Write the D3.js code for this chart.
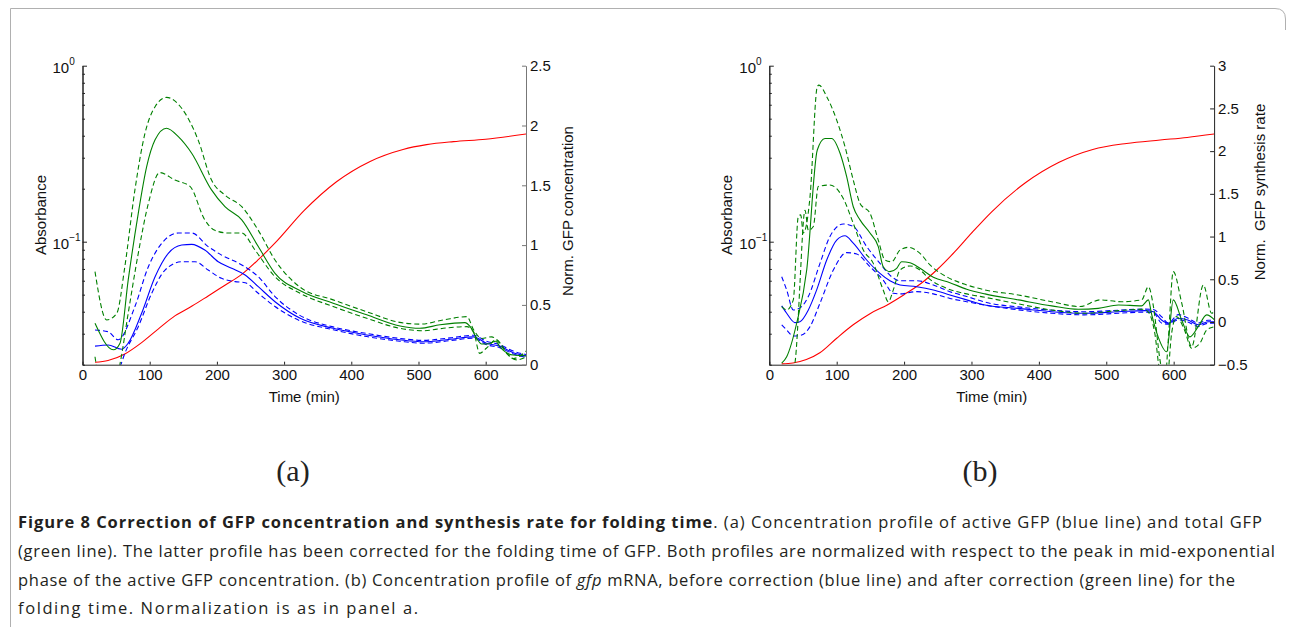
<!DOCTYPE html>
<html><head><meta charset="utf-8">
<script src="https://cdn.jsdelivr.net/npm/d3@7"></script>
<style>
body{margin:0;background:#fff}
svg{display:block}
</style>
</head><body>
<svg id="c" width="1292" height="627"></svg>
<script>
// ---------- tick labels / axis values ----------
const timeTicks = [0,100,200,300,400,500,600];
const logMajorTicks = [1, 0.1];
const logMinorTicks = [0.02,0.03,0.04,0.05,0.06,0.07,0.08,0.09,0.2,0.3,0.4,0.5,0.6,0.7,0.8,0.9];
const logLabels = [["10","0"],["10","\u22121"]];
const rightTicksA = [0,0.5,1,1.5,2,2.5];
const rightTicksB = [-0.5,0,0.5,1,1.5,2,2.5,3];

// ---------- Panel (a) series: [time (min), value] ----------
const aGreen = [[18.6,0.0344],[45.9,0.0243],[55.8,0.0265],[68,0.0605],[83,0.145],[95.5,0.267],[108,0.379],[125,0.441],[142.6,0.395],[162.5,0.318],[192,0.197],[212,0.158],[237,0.133],[261.6,0.0938],[286.5,0.0661],[325,0.0525],[373,0.0447],[423,0.0384],[472.5,0.0332],[502,0.0322],[532,0.0337],[569,0.0347],[577,0.0329],[586.6,0.0282],[594,0.0262],[603,0.0262],[615,0.0272],[621,0.0253],[641,0.0227],[661,0.0225]];
const aGreenUp = [[18.6,0.0676],[36,0.0359],[51,0.0392],[63,0.0721],[78,0.197],[93,0.413],[108,0.585],[125,0.661],[147.6,0.573],[172,0.379],[192,0.224],[212,0.184],[237,0.158],[261.6,0.116],[286.5,0.0787],[324,0.0551],[373,0.0467],[423,0.04],[472,0.0348],[502,0.034],[537,0.0359],[572,0.0375],[582,0.0316],[594,0.0282],[609,0.0288],[621,0.0265],[641,0.0217],[661,0.024]];
const aGreenLo = [[18.6,0.0222],[30,0.0141],[45,0.0141],[56,0.0204],[68,0.0392],[83,0.0859],[98,0.165],[115,0.247],[137.6,0.224],[160,0.206],[182,0.133],[197,0.116],[217,0.112],[237,0.112],[256.7,0.0897],[286.5,0.0632],[324,0.0509],[373,0.0428],[423,0.0367],[472,0.0322],[507,0.0312],[537,0.0322],[572,0.0329],[582,0.0308],[591,0.0232],[601,0.0248],[616,0.0277],[631,0.0232],[646,0.0213],[661,0.0222]];
const aBlue = [[18.6,0.0255],[38,0.0259],[58,0.0245],[68,0.0265],[88,0.0392],[108,0.0632],[127.7,0.0859],[147.6,0.0957],[162.5,0.0966],[182,0.0897],[202,0.0769],[222,0.0706],[242,0.0647],[261.6,0.0555],[286.5,0.0456],[324,0.0367],[373,0.0322],[423,0.0295],[472,0.0277],[507,0.027],[547,0.0279],[582,0.0288],[601,0.0265],[621,0.0255],[641,0.0234],[661,0.0224]];
const aBlueUp = [[18.6,0.0315],[38,0.0308],[53,0.0277],[78,0.0428],[98,0.0721],[118,0.098],[142.6,0.112],[162.5,0.112],[187,0.0938],[207,0.0839],[237,0.0738],[261.6,0.0632],[286.5,0.0488],[324,0.038],[373,0.0328],[423,0.0301],[472,0.0282],[507,0.0275],[547,0.0284],[582,0.0294],[601,0.0272],[621,0.026],[641,0.0239],[661,0.0228]];
const aBlueLo = [[18.6,0.0174],[40,0.0166],[55,0.0191],[63,0.0232],[83,0.0329],[103,0.0509],[122.8,0.069],[147.6,0.0769],[167.5,0.0769],[187,0.069],[207,0.0619],[227,0.0593],[242,0.0585],[261.6,0.0509],[286.5,0.0428],[324,0.0355],[373,0.0316],[423,0.0289],[472,0.0272],[507,0.0265],[547,0.0274],[582,0.0283],[601,0.026],[621,0.025],[641,0.023],[661,0.022]];
const aRed = [[18.6,0.02],[38,0.035],[63,0.09],[88,0.185],[113,0.30],[138,0.41],[163,0.49],[187,0.575],[212,0.665],[237,0.755],[262,0.88],[287,1.02],[330,1.29],[378,1.53],[428,1.70],[477,1.80],[512,1.84],[552,1.865],[600,1.885],[661,1.93]];

// ---------- Panel (b) series ----------
const bGreen = [[18.4,0.0204],[25.8,0.0222],[40.6,0.0344],[55.5,0.069],[71.2,0.332],[82.6,0.386],[92.6,0.386],[105,0.318],[114.8,0.234],[124.6,0.158],[134.6,0.133],[149.4,0.112],[161.7,0.0938],[169,0.0721],[179,0.0676],[189,0.0706],[196.4,0.0769],[208.8,0.076],[223.6,0.0706],[243.4,0.0628],[268,0.0585],[292.9,0.0537],[320,0.0505],[369.5,0.0467],[419,0.0432],[458.5,0.0413],[488,0.0418],[518,0.0437],[552.5,0.0432],[562.5,0.0467],[567,0.0392],[577,0.0288],[589.6,0.0237],[599.4,0.0467],[611.9,0.0359],[624,0.0288],[636.5,0.0329],[649,0.0384],[661,0.0359]];
const bGreenUp = [[18.4,0.0428],[25.8,0.0409],[35.6,0.0467],[43,0.139],[46.6,0.142],[50.4,0.112],[55.5,0.127],[60.4,0.18],[71.2,0.76],[73.6,0.776],[85.2,0.667],[100,0.491],[112.3,0.347],[124.6,0.224],[134.6,0.165],[149.4,0.145],[161.7,0.102],[171.7,0.0787],[181.6,0.0769],[194,0.0897],[206.2,0.0929],[223.6,0.0859],[238.4,0.0738],[263.2,0.0632],[292.9,0.0568],[320,0.0532],[369.5,0.0498],[419,0.0456],[461,0.0428],[491,0.0467],[522,0.0456],[552.5,0.0467],[562.5,0.0555],[570,0.0428],[579.7,0.0213],[587,0.0158],[592,0.0277],[599.4,0.0676],[612,0.0447],[626.7,0.0253],[644,0.0568],[656.4,0.0392],[661,0.0407]];
const bGreenLo = [[18.4,0.0126],[38,0.0204],[43,0.0375],[45.5,0.0581],[53,0.151],[57.9,0.116],[65.3,0.122],[72.7,0.206],[90,0.21],[109.8,0.176],[124.6,0.127],[139.5,0.0897],[154.3,0.0753],[169,0.0532],[176.6,0.0456],[184,0.0532],[194,0.069],[208.8,0.0728],[223.6,0.069],[238.4,0.0611],[263.2,0.0543],[292.9,0.0505],[320,0.0483],[369.5,0.0443],[419,0.0409],[468,0.0392],[518,0.0406],[555,0.0413],[562.5,0.0398],[572,0.0302],[580,0.0178],[589.6,0.0158],[597,0.0302],[604,0.0375],[616,0.0315],[626.7,0.0248],[639,0.0265],[649,0.0315],[661,0.0329]];
const bBlue = [[18.4,0.0432],[25.8,0.0392],[38,0.0347],[45.5,0.0351],[57.9,0.0409],[70.3,0.0532],[85.2,0.0787],[100,0.102],[112.3,0.108],[124.6,0.098],[144.5,0.0787],[164.2,0.0661],[179,0.06],[194,0.0568],[218.7,0.0555],[243.4,0.0532],[268,0.0498],[292.9,0.0467],[320,0.0437],[369.5,0.0418],[419,0.04],[468,0.0392],[518,0.04],[557.5,0.0406],[570,0.04],[582,0.0359],[592,0.0344],[607,0.0367],[621,0.0359],[636.5,0.0337],[651,0.0351],[661,0.0351]];
const bBlueUp = [[18.4,0.0632],[25.8,0.0532],[35.6,0.0409],[48,0.0428],[57.9,0.0488],[75.2,0.0753],[90,0.107],[109.8,0.126],[124.6,0.122],[144.5,0.0938],[164.2,0.0753],[181.6,0.0632],[194,0.06],[218.7,0.06],[243.4,0.0568],[268,0.052],[292.9,0.0488],[327,0.0447],[369.5,0.0426],[419,0.0408],[468,0.04],[518,0.0408],[557.5,0.0414],[570,0.0412],[582,0.0375],[592,0.0345],[607,0.0385],[621,0.0368],[636.5,0.0345],[651,0.0358],[661,0.0358]];
const bBlueLo = [[18.4,0.0337],[25.8,0.0315],[35.6,0.0291],[48,0.0295],[60.4,0.0329],[75.2,0.0447],[95,0.069],[114.8,0.0867],[129.7,0.0851],[149.4,0.0721],[169,0.0605],[184,0.0509],[194,0.0505],[218.7,0.052],[243.4,0.0505],[268,0.0476],[292.9,0.0456],[327,0.0432],[369.5,0.041],[419,0.0392],[468,0.0384],[518,0.0392],[557.5,0.0398],[570,0.0395],[582,0.0345],[592,0.034],[607,0.036],[621,0.035],[636.5,0.033],[651,0.0344],[661,0.0344]];
const bRed = [[18.4,-0.49],[35,-0.48],[55,-0.44],[75,-0.36],[100,-0.19],[125,-0.03],[150,0.1],[175,0.2],[200,0.32],[225,0.45],[250,0.62],[275,0.82],[300,1.04],[330,1.29],[380,1.63],[430,1.87],[480,2.02],[530,2.09],[580,2.13],[620,2.16],[660,2.2]];

// ---------- texts ----------
const xLabel = "Time (min)";
const yLabel = "Absorbance";
const rLabelA = "Norm. GFP concentration";
const rLabelB = "Norm.  GFP synthesis rate";
const panelTags = ["(a)","(b)"];

const svg = d3.select("#c");
const FONT = "'Liberation Sans', Arial, Helvetica, sans-serif";

// frame
svg.append("path")
  .attr("d","M10.5,627 V8.5 H1275 Q1285.5,8.5 1285.5,19 V30")
  .attr("fill","none").attr("stroke","#b0b0b0").attr("stroke-width",1);

function drawPanel(cfg, S){
  const x = d3.scaleLinear().domain([0,660]).range([cfg.x0,cfg.x1]);
  const y = d3.scaleLog().domain([0.02,1]).range([cfg.yBot,cfg.yTop]);
  const yr = d3.scaleLinear().domain(cfg.rDomain).range([cfg.yBot,cfg.yTop]);
  const cid = "clip"+cfg.id;
  svg.append("clipPath").attr("id",cid).append("rect")
    .attr("x",cfg.x0).attr("y",cfg.yTop).attr("width",cfg.x1-cfg.x0).attr("height",cfg.yBot-cfg.yTop);
  const plot = svg.append("g").attr("clip-path",`url(#${cid})`);
  const line = d3.line().x(p=>x(p[0])).y(p=>y(p[1])).curve(d3.curveMonotoneX);
  const rline = d3.line().x(p=>x(p[0])).y(p=>yr(p[1])).curve(d3.curveMonotoneX);
  const add = (data, gen, color, dash) => plot.append("path").attr("d",gen(data))
      .attr("fill","none").attr("stroke",color).attr("stroke-width",1.1)
      .attr("stroke-dasharray", dash ? "5,3" : null);
  add(S.red, rline, "#ff0000", false);
  add(S.blueUp, line, "#0000ff", true);
  add(S.blueLo, line, "#0000ff", true);
  add(S.blue, line, "#0000ff", false);
  add(S.greenUp, line, "#008000", true);
  add(S.greenLo, line, "#008000", true);
  add(S.green, line, "#008000", false);

  const style = (g, col) => {
    g.attr("font-family",FONT).attr("font-size",15);
    g.selectAll("path.domain").attr("stroke",col);
    g.selectAll(".tick line").attr("stroke",col);
    g.selectAll(".tick text").attr("fill","#111");
  };
  // bottom axis
  const gx = svg.append("g").attr("transform",`translate(0,${cfg.yBot})`)
    .call(d3.axisBottom(x).tickValues(timeTicks).tickSizeInner(-3).tickSizeOuter(0).tickPadding(5));
  style(gx,"#222");
  // left axis, minor ticks
  const gm = svg.append("g").attr("transform",`translate(${cfg.x0},0)`)
    .call(d3.axisLeft(y).tickValues(logMinorTicks).tickSizeInner(-2.5).tickSizeOuter(0).tickFormat(""));
  style(gm,"#222");
  // left axis, major ticks
  const gl = svg.append("g").attr("transform",`translate(${cfg.x0},0)`)
    .call(d3.axisLeft(y).tickValues(logMajorTicks).tickSizeInner(-4.5).tickSizeOuter(0).tickFormat(""));
  style(gl,"#222");
  logMajorTicks.forEach((v,i)=>{
    const t = svg.append("text").attr("font-family",FONT).attr("fill","#111")
      .attr("x",cfg.x0-30).attr("y",y(v)+7).attr("font-size",15);
    t.append("tspan").text(logLabels[i][0]);
    t.append("tspan").attr("font-size",10).attr("dy",-8).text(logLabels[i][1]);
  });
  // right axis
  const gr = svg.append("g").attr("transform",`translate(${cfg.x1},0)`)
    .call(d3.axisRight(yr).tickValues(cfg.rTicks).tickSizeInner(-4).tickSizeOuter(0).tickPadding(4)
      .tickFormat(d=> d<0 ? "\u2212"+Math.abs(d) : String(d)));
  style(gr,cfg.rColor);

  // axis labels
  svg.append("text").attr("font-family",FONT).attr("font-size",15).attr("fill","#111")
    .attr("text-anchor","middle").attr("x",(cfg.x0+cfg.x1)/2).attr("y",cfg.yBot+37).text(xLabel);
  svg.append("text").attr("font-family",FONT).attr("font-size",15).attr("fill","#111")
    .attr("text-anchor","middle").attr("transform",`translate(${cfg.ylx},215) rotate(-90)`).text(yLabel);
  svg.append("text").attr("font-family",FONT).attr("font-size",15).attr("fill","#111")
    .attr("text-anchor","middle").style("white-space","pre")
    .attr("transform",`translate(${cfg.rlx},${cfg.rly}) rotate(-90)`).text(cfg.rLabel);
  // panel tag
  svg.append("text").attr("font-family","'Liberation Serif','DejaVu Serif',serif").attr("font-size",30)
    .attr("fill","#222")
    .attr("text-anchor","middle").attr("x",cfg.tagX).attr("y",481).text(cfg.tag);
}

drawPanel({id:"a", x0:82.5, x1:526, yTop:65.7, yBot:364.7, rDomain:[0,2.5], rTicks:rightTicksA,
  rColor:"#777", rLabel:rLabelA, ylx:46, rlx:573, rly:211, tag:panelTags[0], tagX:293},
  {green:aGreen, greenUp:aGreenUp, greenLo:aGreenLo, blue:aBlue, blueUp:aBlueUp, blueLo:aBlueLo, red:aRed});
drawPanel({id:"b", x0:769.3, x1:1214.1, yTop:65.7, yBot:364.7, rDomain:[-0.5,3], rTicks:rightTicksB,
  rColor:"#222", rLabel:rLabelB, ylx:732, rlx:1265, rly:192, tag:panelTags[1], tagX:980},
  {green:bGreen, greenUp:bGreenUp, greenLo:bGreenLo, blue:bBlue, blueUp:bBlueUp, blueLo:bBlueLo, red:bRed});

// ---------- caption ----------
const CFONT = "'Open Sans','Noto Sans',sans-serif";
const capLines = [
  {y:528, len:1244, parts:[["Figure 8 Correction of GFP concentration and synthesis rate for folding time","bold"],[". (a) Concentration profile of active GFP (blue line) and total GFP",""]]},
  {y:557, len:1257, parts:[["(green line). The latter profile has been corrected for the folding time of GFP. Both profiles are normalized with respect to the peak in mid-exponential",""]]},
  {y:586, len:1217, parts:[["phase of the active GFP concentration. (b) Concentration profile of ",""],["gfp","italic"],[" mRNA, before correction (blue line) and after correction (green line) for the",""]]},
  {y:614, len:400, parts:[["folding time. Normalization is as in panel a.",""]]}
];
capLines.forEach(L=>{
  const t = svg.append("text").attr("x",18).attr("y",L.y).attr("font-family",CFONT)
    .attr("font-size",16.5).attr("fill","#231f20").style("white-space","pre");
  if(L.len) t.attr("textLength",L.len).attr("lengthAdjust","spacing");
  L.parts.forEach(p=>{
    const s = t.append("tspan").text(p[0]);
    if(p[1]==="bold") s.attr("font-weight",700);
    if(p[1]==="italic") s.attr("font-style","italic");
  });
});
</script>
</body></html>
